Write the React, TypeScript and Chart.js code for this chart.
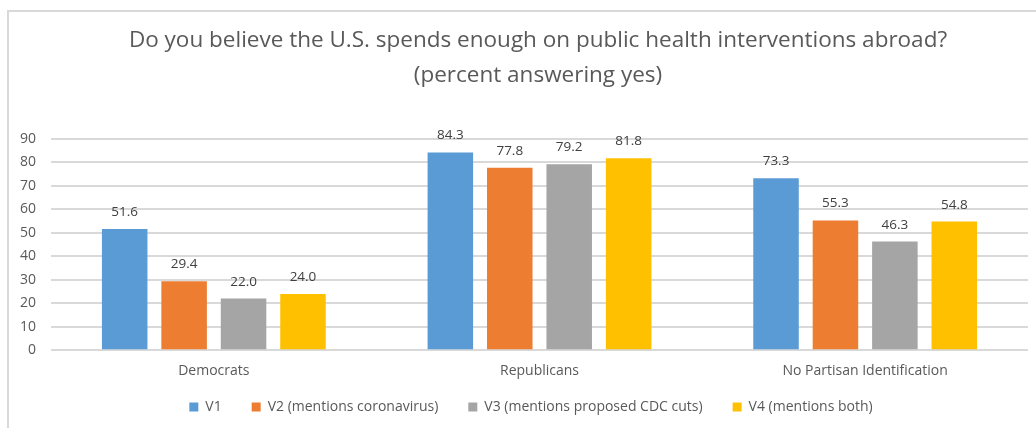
import React, { useEffect, useRef } from "react";
import { Chart, registerables } from "chart.js";

Chart.register(...registerables);

const categories = ["Democrats", "Republicans", "No Partisan Identification"];
const seriesNames = [
  "V1",
  "V2 (mentions coronavirus)",
  "V3 (mentions proposed CDC cuts)",
  "V4 (mentions both)",
];
const v1 = [51.6, 84.3, 73.3];
const v2 = [29.4, 77.8, 55.3];
const v3 = [22.0, 79.2, 46.3];
const v4 = [24.0, 81.8, 54.8];
const seriesColors = ["#5B9BD5", "#ED7D31", "#A5A5A5", "#FFC000"];
const titleLines = [
  "Do you believe the U.S. spends enough on public health interventions abroad?",
  "(percent answering yes)",
];
const yMin = 0;
const yMax = 90;
const yStep = 10;

const FONT = "'Open Sans', 'Noto Sans', sans-serif";
const LEGEND_TOP = 358;
const LEGEND_SHIFT_X = -7;

// Writes each bar's value just above the bar top
const valueLabels = {
  id: "valueLabels",
  afterDatasetsDraw(chart: any) {
    const ctx = chart.ctx;
    ctx.save();
    ctx.font = `13.5px ${FONT}`;
    ctx.fillStyle = "#404040";
    ctx.textAlign = "center";
    ctx.textBaseline = "alphabetic";
    chart.data.datasets.forEach((ds: any, i: number) => {
      const meta = chart.getDatasetMeta(i);
      meta.data.forEach((bar: any, j: number) => {
        ctx.fillText(Number(ds.data[j]).toFixed(1), bar.x, bar.y - 13);
      });
    });
    ctx.restore();
  },
};

// Pulls the legend row up closer to the category labels
const legendOffset = {
  id: "legendOffset",
  afterLayout(chart: any) {
    const lg = chart.legend;
    if (!lg) return;
    const h = lg.bottom - lg.top;
    lg.top = LEGEND_TOP;
    lg.bottom = LEGEND_TOP + h;
    lg.left += LEGEND_SHIFT_X;
    lg.right += LEGEND_SHIFT_X;
  },
};

export default function App() {
  const canvasRef = useRef<HTMLCanvasElement | null>(null);

  useEffect(() => {
    if (!canvasRef.current) return;
    const values = [v1, v2, v3, v4];
    const chart = new Chart(canvasRef.current, {
      type: "bar",
      data: {
        labels: categories,
        datasets: seriesNames.map((name, i) => ({
          label: name,
          data: values[i],
          backgroundColor: seriesColors[i],
          borderWidth: 0,
          categoryPercentage: 0.73,
          barPercentage: 0.766,
          yAxisID: "y",
        })),
      },
      options: {
        responsive: false,
        animation: false,
        layout: { padding: 0 },
        plugins: {
          title: {
            display: true,
            text: titleLines,
            color: "#595959",
            font: { family: FONT, size: 22.5, weight: "normal", lineHeight: 35 / 22.5 },
            padding: { top: 11, bottom: 46 },
          },
          legend: {
            display: true,
            position: "bottom",
            labels: {
              color: "#595959",
              font: { family: FONT, size: 14 },
              boxWidth: 9,
              boxHeight: 9,
              padding: 30,
            },
          },
          tooltip: { enabled: false },
        },
        scales: {
          x: {
            grid: { display: false },
            border: { display: false },
            ticks: {
              color: "#595959",
              font: { family: FONT, size: 14 },
              padding: 4,
              maxRotation: 0,
              autoSkip: false,
            },
          },
          y: {
            min: yMin,
            max: yMax,
            grid: { color: "#D9D9D9", lineWidth: 2, drawTicks: false },
            border: { display: false },
            ticks: {
              stepSize: yStep,
              color: "#595959",
              font: { family: FONT, size: 14 },
              padding: 15,
            },
            afterFit(scale: any) {
              scale.width = 42;
            },
          },
          // Empty right-hand axis that only reserves the margin right of the plot
          yRight: {
            position: "right",
            min: yMin,
            max: yMax,
            grid: { display: false },
            border: { display: false },
            ticks: { display: false },
            afterFit(scale: any) {
              scale.width = 39;
            },
          },
        },
      },
      plugins: [valueLabels, legendOffset],
    });
    return () => chart.destroy();
  }, []);

  return (
    <div
      style={{
        position: "fixed",
        left: 7,
        top: 10,
        width: 1029,
        height: 416,
        overflow: "hidden",
        borderTop: "2px solid #D9D9D9",
        borderLeft: "2px solid #D9D9D9",
        background: "#FFFFFF",
      }}
    >
      <canvas ref={canvasRef} width={1058} height={425} style={{ display: "block" }} />
    </div>
  );
}
